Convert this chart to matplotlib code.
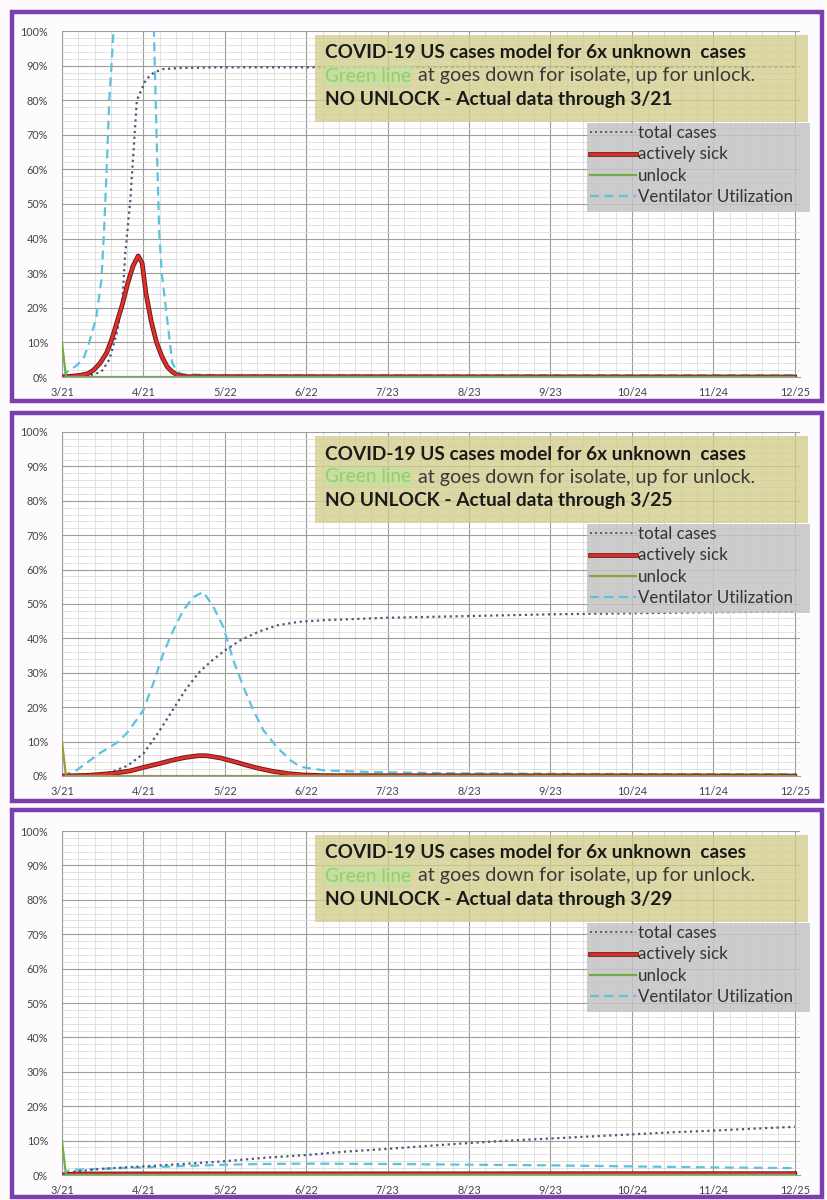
import matplotlib
matplotlib.use("Agg")
import matplotlib.pyplot as plt
import matplotlib.patheffects as pe
from matplotlib.patches import Rectangle
from matplotlib.lines import Line2D

plt.rcParams['font.family'] = ['Lato', 'DejaVu Sans']

# x axis: days since 3/21
tick_days = [0, 31, 62, 93, 124, 155, 186, 217, 248, 279]
tick_labels = ['3/21', '4/21', '5/22', '6/22', '7/23', '8/23', '9/23', '10/24', '11/24', '12/25']
y_ticks = [0, 10, 20, 30, 40, 50, 60, 70, 80, 90, 100]

# ---- panel 1: actual data through 3/21 ----
p1_total_x = [0, 10, 15, 18, 21, 23, 24, 25, 26, 28.5, 32, 35, 38.5, 45, 60, 100, 150, 200, 250, 279]
p1_total_y = [0, 0.3, 1.5, 5, 13, 22, 35, 43, 51, 80, 86, 88, 89, 89.3, 89.5, 89.5, 89.6, 89.6, 89.6, 89.6]
p1_sick_x = [0, 3, 7, 10, 12, 14.5, 17, 19, 21, 23, 25, 27, 29, 30.5, 32, 34, 36, 38, 40, 42, 44, 47, 279]
p1_sick_y = [0, 0.2, 0.5, 1, 2, 4, 7, 11, 16, 21, 27, 32, 35, 33, 24, 16, 10, 6, 3, 1.5, 0.5, 0.1, 0]
p1_vent_x = [0, 2, 5, 8, 10, 13, 15, 16, 17, 18, 19, 20, 22, 26, 30, 34, 35, 36, 37, 38, 40, 42, 44, 46, 60, 279]
p1_vent_y = [0, 1.5, 3, 5, 9, 17, 28, 42, 60, 80, 92, 105, 160, 250, 250, 130, 100, 70, 42, 30, 17, 4, 1.5, 0.8, 0.5, 0.5]

# ---- panel 2: actual data through 3/25 ----
p2_total_x = [0, 15, 20, 25, 31, 37, 42, 47, 52, 57, 62, 68, 75, 82, 90, 100, 124, 155, 186, 217, 248, 279]
p2_total_y = [0, 0.5, 1.5, 3, 6.5, 13, 19, 25, 30, 33.5, 36.5, 39.5, 42, 43.8, 44.8, 45.3, 46, 46.5, 47, 47.3, 47.6, 47.8]
p2_sick_x = [0, 10, 20, 26, 31, 37, 42, 47, 52, 55, 60, 65, 70, 75, 80, 86, 92, 100, 279]
p2_sick_y = [0, 0.2, 0.8, 1.5, 2.5, 3.6, 4.6, 5.4, 5.9, 5.9, 5.3, 4.3, 3.2, 2.2, 1.4, 0.7, 0.3, 0.1, 0]
p2_vent_x = [0, 5.6, 14.5, 20.8, 24.6, 28.4, 31, 34.8, 38.6, 42.4, 46.2, 50, 53.8, 57.6, 61.4, 65.2, 69, 72.8,
             76.6, 81.7, 86.8, 90.6, 100, 120, 150, 200, 279]
p2_vent_y = [0, 1.7, 6.7, 9.6, 12.4, 16.3, 19.2, 27, 35.7, 42.4, 48.2, 52, 53.5, 49.2, 43.4, 33.7, 26, 19.2,
             13.4, 8.5, 4.7, 2.7, 1.6, 1.1, 0.8, 0.6, 0.5]

# ---- panel 3: actual data through 3/29 ----
p3_total_x = [0, 5, 15, 31, 46, 62, 77, 93, 108, 124, 140, 155, 170, 186, 201, 217, 232, 248, 264, 279]
p3_total_y = [0, 1, 1.8, 2.5, 3.2, 4, 5, 5.8, 6.8, 7.6, 8.5, 9.3, 10, 10.6, 11.2, 11.8, 12.4, 12.9, 13.5, 14]
p3_sick_x = [0, 5, 279]
p3_sick_y = [0, 0.3, 0.4]
p3_vent_x = [0, 3, 15, 31, 46, 62, 77, 93, 124, 155, 186, 217, 248, 279]
p3_vent_y = [0, 1.5, 1.8, 2.2, 2.6, 3, 3.2, 3.3, 3.2, 3, 2.8, 2.5, 2.2, 2]

unlock_x = [0, 1.5, 279]
unlock_y = [10, 0, 0]

through_dates = ['3/21', '3/25', '3/29']

W, H = 827, 1200
fig = plt.figure(figsize=(8.27, 12), dpi=100)
fig.patch.set_facecolor('#fdfbfd')


def fx(px):
    return px / W


def fy(py):
    return 1 - py / H


TOTAL_C = '#4a5a7a'
SICK_C = '#e0302a'
VENT_C = '#5bc3dd'
sick_fx = [pe.Stroke(linewidth=3.4, foreground='#6e1a1a'), pe.Normal()]


def draw_panel(top, bot, btop, bbot, tx, ty, sx, sy, vx, vy, unlock_c, through):
    # purple frame
    fig.patches.append(Rectangle((fx(12), fy(bbot)), fx(822) - fx(12), fy(btop) - fy(bbot),
                                 transform=fig.transFigure, facecolor='none',
                                 edgecolor='#7b3fb0', linewidth=3.2, zorder=0))

    ax = fig.add_axes([fx(62), fy(bot), fx(800) - fx(62), (bot - top) / H])
    ax.set_facecolor('white')
    ax.set_xlim(0, 281)
    ax.set_ylim(0, 100)
    ax.set_xticks(tick_days)
    ax.set_xticklabels(tick_labels)
    ax.set_xticks([i * 6.2 for i in range(46)], minor=True)
    ax.set_yticks(y_ticks)
    ax.set_yticklabels([f'{v}%' for v in y_ticks])
    ax.set_yticks(list(range(0, 101, 2)), minor=True)
    ax.grid(which='major', color='#9c9c9c', linewidth=0.8)
    ax.grid(which='minor', color='#d6d6d6', linewidth=0.5)
    ax.set_axisbelow(True)
    ax.tick_params(which='both', length=0, labelsize=7.8, colors='#454545')
    ax.tick_params(axis='x', pad=7)
    ax.tick_params(axis='y', pad=10)
    for s in ['top', 'right']:
        ax.spines[s].set_visible(False)
    for s in ['left', 'bottom']:
        ax.spines[s].set_color('#a0a0a0')

    ax.plot(vx, vy, color=VENT_C, linewidth=1.6, dashes=(4, 2.5), zorder=3)
    ax.plot(tx, ty, color=TOTAL_C, linewidth=1.6, linestyle=(0, (1, 1.6)), zorder=4)
    ax.plot(sx, sy, color=SICK_C, linewidth=2, path_effects=sick_fx, zorder=5)
    ax.plot(unlock_x, unlock_y, color=unlock_c, linewidth=1.6, zorder=6)

    # title box
    fig.patches.append(Rectangle((fx(315), fy(top + 91)), fx(808) - fx(315), fy(top + 4) - fy(top + 91),
                                 transform=fig.transFigure, facecolor='#d2ce8c', alpha=0.78,
                                 edgecolor='none', zorder=10))
    fig.text(fx(325), fy(top + 22), 'COVID-19 US cases model for 6x unknown  cases',
             fontsize=13.7, fontweight='bold', color='#1a1a1a', va='center', zorder=11)
    fig.text(fx(325), fy(top + 45), 'Green line', fontsize=13.6, color='#8fd06c', va='center', zorder=11,
             bbox=dict(facecolor='#bde39e', edgecolor='none', alpha=0.55, pad=1))
    fig.text(fx(418), fy(top + 45), 'at goes down for isolate, up for unlock.',
             fontsize=14.2, color='#3a3a3a', va='center', zorder=11)
    fig.text(fx(325), fy(top + 68), 'NO UNLOCK - Actual data through ' + through,
             fontsize=13.8, fontweight='bold', color='#1a1a1a', va='center', zorder=11)

    # legend box
    fig.patches.append(Rectangle((fx(587), fy(top + 181)), fx(810) - fx(587), fy(top + 92) - fy(top + 181),
                                 transform=fig.transFigure, facecolor='#c4c4c4', alpha=0.85,
                                 edgecolor='none', zorder=10))
    handles = [
        Line2D([], [], color=TOTAL_C, linewidth=1.4, linestyle=(0, (1, 1.6))),
        Line2D([], [], color=SICK_C, linewidth=2, path_effects=sick_fx),
        Line2D([], [], color=unlock_c, linewidth=1.6),
        Line2D([], [], color=VENT_C, linewidth=1.6, dashes=(4, 2.5)),
    ]
    labels = ['total cases', 'actively sick', 'unlock', 'Ventilator Utilization']
    leg = fig.legend(handles, labels, loc='upper left', bbox_to_anchor=(fx(587), fy(top + 91)),
                     bbox_transform=fig.transFigure, frameon=False, fontsize=12.2,
                     handlelength=2.7, handletextpad=0.1, labelspacing=0.3, borderpad=0.2,
                     borderaxespad=0)
    leg.set_zorder(12)
    for t in leg.get_texts():
        t.set_color('#333333')
    return ax


draw_panel(31, 377, 12, 401, p1_total_x, p1_total_y, p1_sick_x, p1_sick_y,
           p1_vent_x, p1_vent_y, '#70ad47', through_dates[0])
draw_panel(432, 776, 413, 801, p2_total_x, p2_total_y, p2_sick_x, p2_sick_y,
           p2_vent_x, p2_vent_y, '#9c9a3a', through_dates[1])
draw_panel(831, 1175, 810, 1197, p3_total_x, p3_total_y, p3_sick_x, p3_sick_y,
           p3_vent_x, p3_vent_y, '#70ad47', through_dates[2])

fig.savefig('out.png', dpi=100, facecolor=fig.get_facecolor())
